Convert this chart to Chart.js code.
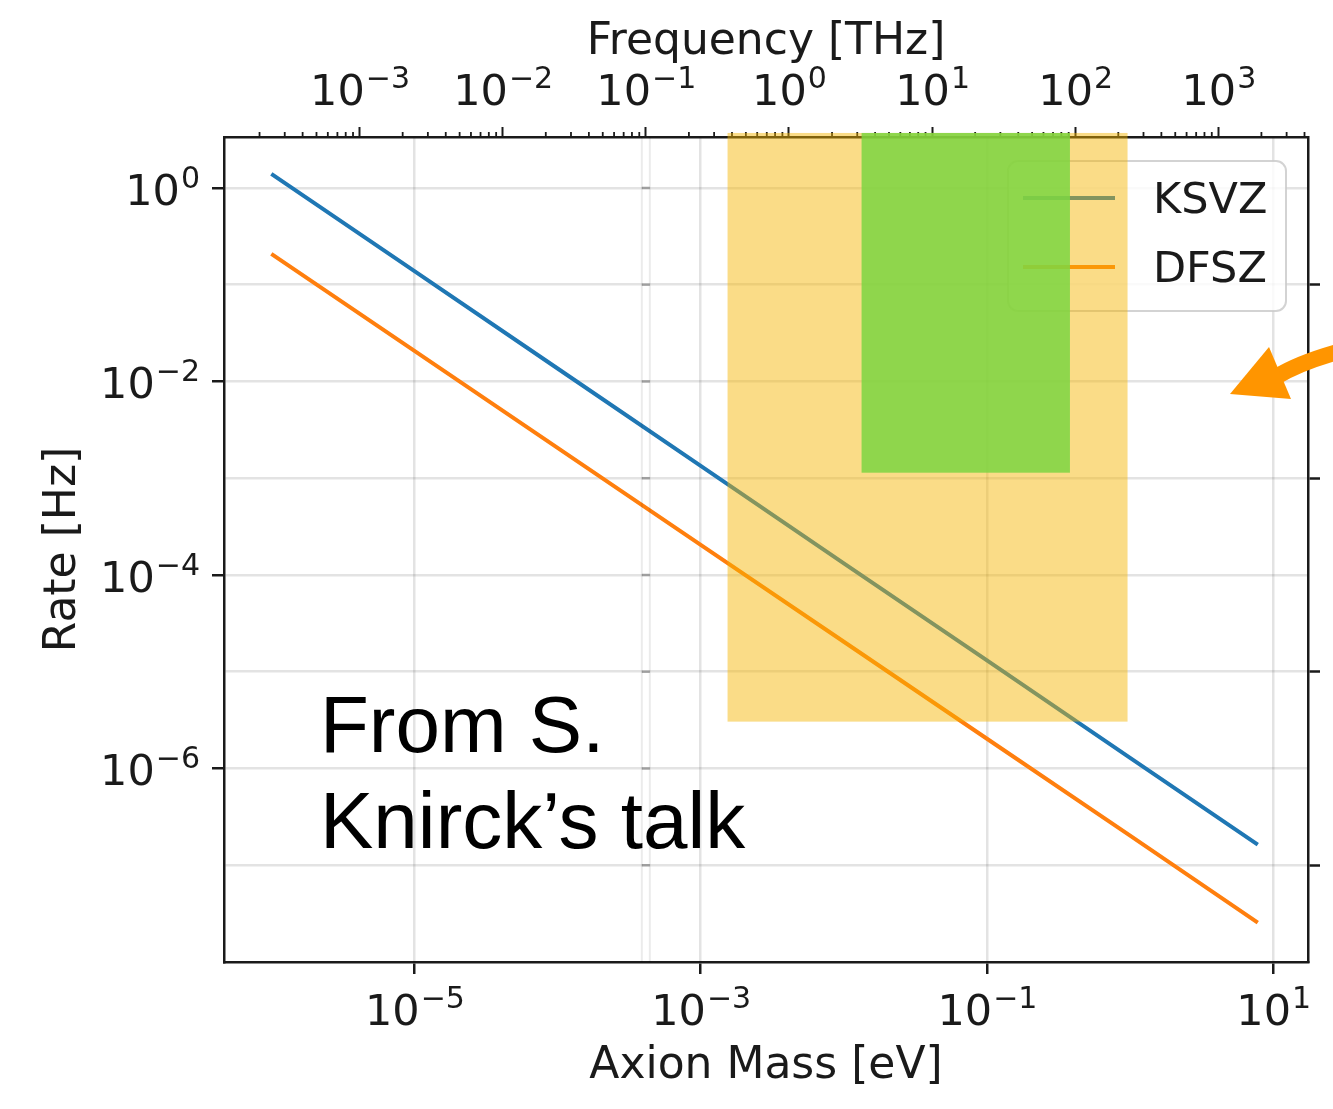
<!DOCTYPE html>
<html lang="en">
    <head>
        <meta charset="utf-8"/>
        <title>Axion rate vs mass</title>
        <script src="https://cdn.jsdelivr.net/npm/chart.js"></script>
        <style type="text/css">
            body { margin: 0; background: #ffffff; }
            canvas { display: block; }
        </style>
    </head>
    <body>
        <canvas id="myChart" width="1333" height="1109"></canvas>

        <script>
            // data
            const massEv   = [1e-6, 1e-5, 1e-4, 1e-3, 1e-2, 1e-1, 1, 7.8];
            const rateKSVZ = [1.4, 0.138, 1.36e-2, 1.34e-3, 1.32e-4, 1.31e-5, 1.29e-6, 1.63e-7];
            const rateDFSZ = [0.208, 2.07e-2, 2.06e-3, 2.05e-4, 2.04e-5, 2.03e-6, 2.02e-7, 2.55e-8];
            const seriesNames = ['KSVZ', 'DFSZ'];

            // axis ranges and ticks
            const massRange = [4.67e-7, 17.5];
            const rateRange = [1e-8, 3.36];
            const THZ_PER_EV = 241.8;
            const massTicks = [1e-5, 1e-3, 1e-1, 1e1];
            const freqTicks = [1e-3, 1e-2, 1e-1, 1e0, 1e1, 1e2, 1e3];
            const rateTicksAll = [1e-7, 1e-6, 1e-5, 1e-4, 1e-3, 1e-2, 1e-1, 1e0];
            const rateTicksLeft = [1e-6, 1e-4, 1e-2, 1e0];
            const rateTicksRight = [1e-7, 1e-5, 1e-3, 1e-1];

            // shaded bands (mass in eV, rate in Hz)
            const bandMassMin = [1.54e-3, 1.33e-2];
            const bandMassMax = [0.96, 0.38];
            const bandRateMin = [3.05e-6, 1.14e-3];
            const bandRateMax = [3.7, 3.7];
            const bandColors  = ['rgba(244,180,0,0.47)', 'rgba(124,214,66,0.85)'];

            const FONT = "'DejaVu Sans'";
            const gridCol = 'rgba(0,0,0,0.11)';
            const titleFont = {family: FONT, size: 44};
            const border = {display: true, color: '#1a1a1a', width: 2.5};

            function setTicks(values) {
                return function (scale) { scale.ticks = values.map(function (v) { return {value: v}; }); };
            }
            function blank() { return ''; }

            // "10" with a raised exponent, like mathtext
            function drawPow(ctx, v, x, base, align) {
                const e = Math.round(Math.log10(v));
                const sup = (e < 0 ? '\u2212' : '') + Math.abs(e);
                ctx.font = '43px ' + FONT;
                const wb = ctx.measureText('10').width;
                ctx.font = '30px ' + FONT;
                const ws = ctx.measureText(sup).width;
                const x0 = align === 'right' ? x - wb - ws : x - (wb + ws) / 2;
                ctx.font = '43px ' + FONT;
                ctx.fillText('10', x0, base);
                ctx.font = '30px ' + FONT;
                ctx.fillText(sup, x0 + wb + 1, base - 17);
            }

            const extras = {
                id: 'extras',
                afterDatasetsDraw(chart) {
                    const ctx = chart.ctx;
                    const a = chart.chartArea;
                    const x = chart.scales.x, y = chart.scales.y, x2 = chart.scales.x2;
                    ctx.save();
                    // stray vertical axis line at 0.1 THz
                    const xs = x2.getPixelForValue(0.1);
                    ctx.strokeStyle = 'rgba(0,0,0,0.08)';
                    ctx.lineWidth = 2;
                    [-4, 4].forEach(function (d) {
                        ctx.beginPath(); ctx.moveTo(xs + d, a.top); ctx.lineTo(xs + d, a.bottom); ctx.stroke();
                    });
                    ctx.strokeStyle = 'rgba(0,0,0,0.3)';
                    ctx.lineWidth = 2.5;
                    rateTicksAll.forEach(function (v) {
                        const py = y.getPixelForValue(v);
                        ctx.beginPath(); ctx.moveTo(xs - 4, py); ctx.lineTo(xs + 4, py); ctx.stroke();
                    });
                    // top minor ticks
                    ctx.strokeStyle = '#1a1a1a';
                    ctx.lineWidth = 1.8;
                    for (let e = -5; e <= 4; e++) {
                        for (let k = 2; k <= 9; k++) {
                            const v = k * Math.pow(10, e);
                            if (v < x2.min || v > x2.max) continue;
                            const px = x2.getPixelForValue(v);
                            ctx.beginPath(); ctx.moveTo(px, a.top); ctx.lineTo(px, a.top - 5); ctx.stroke();
                        }
                    }
                    // tick labels
                    ctx.fillStyle = '#1a1a1a';
                    ctx.textBaseline = 'alphabetic';
                    ctx.textAlign = 'left';
                    massTicks.forEach(function (v) { drawPow(ctx, v, x.getPixelForValue(v), a.bottom + 63, 'center'); });
                    freqTicks.forEach(function (v) { drawPow(ctx, v, x2.getPixelForValue(v), a.top - 32, 'center'); });
                    rateTicksLeft.forEach(function (v) { drawPow(ctx, v, a.left - 25, y.getPixelForValue(v) + 17, 'right'); });
                    // legend box
                    const bx = a.right - 300, by = a.top + 24, bw = 278, bh = 150;
                    ctx.beginPath();
                    ctx.roundRect(bx, by, bw, bh, 10);
                    ctx.fillStyle = 'rgba(255,255,255,0.8)';
                    ctx.fill();
                    ctx.strokeStyle = 'rgba(200,200,200,0.8)';
                    ctx.lineWidth = 2;
                    ctx.stroke();
                    chart.data.datasets.forEach(function (ds, i) {
                        const ly = by + 37 + i * 69;
                        ctx.strokeStyle = ds.borderColor;
                        ctx.lineWidth = 4;
                        ctx.beginPath(); ctx.moveTo(bx + 15, ly); ctx.lineTo(bx + 107, ly); ctx.stroke();
                        ctx.fillStyle = '#1a1a1a';
                        ctx.font = '43px ' + FONT;
                        ctx.fillText(ds.label, bx + 145, ly + 15);
                    });
                    ctx.restore();
                },
                afterDraw(chart) {
                    const ctx = chart.ctx;
                    const x = chart.scales.x, y = chart.scales.y;
                    ctx.save();
                    for (let i = 0; i < bandColors.length; i++) {
                        const x0 = x.getPixelForValue(bandMassMin[i]);
                        const x1 = x.getPixelForValue(bandMassMax[i]);
                        const y0 = y.getPixelForValue(bandRateMax[i]);
                        const y1 = y.getPixelForValue(bandRateMin[i]);
                        ctx.fillStyle = bandColors[i];
                        ctx.fillRect(x0, y0, x1 - x0, y1 - y0);
                    }
                    // note text
                    ctx.fillStyle = '#000';
                    ctx.font = "80px 'Liberation Sans'";
                    ctx.textBaseline = 'alphabetic';
                    ctx.fillText('From S.', 320, 752);
                    ctx.fillText('Knirck\u2019s talk', 320, 848);
                    // orange arrow on the right
                    ctx.fillStyle = 'rgb(255,149,0)';
                    ctx.strokeStyle = 'rgb(255,149,0)';
                    ctx.lineWidth = 16;
                    ctx.beginPath();
                    ctx.moveTo(1276, 377);
                    ctx.quadraticCurveTo(1300, 362, 1345, 350);
                    ctx.stroke();
                    ctx.beginPath();
                    ctx.moveTo(1230, 394);
                    ctx.lineTo(1269, 347);
                    ctx.lineTo(1291, 399);
                    ctx.closePath();
                    ctx.fill();
                    ctx.restore();
                }
            };

            const data = {
                datasets: [{
                    label: seriesNames[0],
                    data: massEv.map(function (m, i) { return {x: m, y: rateKSVZ[i]}; }),
                    borderColor: '#1f77b4',
                    borderWidth: 4,
                    pointRadius: 0,
                    fill: false
                }, {
                    label: seriesNames[1],
                    data: massEv.map(function (m, i) { return {x: m, y: rateDFSZ[i]}; }),
                    borderColor: '#ff7f0e',
                    borderWidth: 4,
                    pointRadius: 0,
                    fill: false
                }]
            };

            const config = {
                type: 'line',
                data: data,
                plugins: [extras],
                options: {
                    responsive: false,
                    animation: false,
                    devicePixelRatio: 1,
                    layout: {padding: 0},
                    plugins: {legend: {display: false}, tooltip: {enabled: false}},
                    scales: {
                        x: {
                            type: 'logarithmic', position: 'bottom',
                            min: massRange[0], max: massRange[1],
                            afterBuildTicks: setTicks(massTicks),
                            afterFit: function (s) { s.height = 147; },
                            grid: {color: gridCol, lineWidth: 2.5, tickLength: 12, tickColor: '#1a1a1a', tickWidth: 2.5},
                            border: border,
                            ticks: {autoSkip: false, maxRotation: 0, callback: blank},
                            title: {display: true, text: 'Axion Mass [eV]', color: '#1a1a1a', font: titleFont,
                                    padding: {top: 0, bottom: 16}}
                        },
                        x2: {
                            type: 'logarithmic', position: 'top',
                            min: massRange[0] * THZ_PER_EV, max: massRange[1] * THZ_PER_EV,
                            afterBuildTicks: setTicks(freqTicks),
                            afterFit: function (s) { s.height = 137; },
                            grid: {drawOnChartArea: false, tickLength: 10, tickColor: '#1a1a1a', tickWidth: 2},
                            border: border,
                            ticks: {autoSkip: false, maxRotation: 0, callback: blank},
                            title: {display: true, text: 'Frequency [THz]', color: '#1a1a1a', font: titleFont,
                                    padding: {top: 16, bottom: 0}}
                        },
                        y: {
                            type: 'logarithmic', position: 'left',
                            min: rateRange[0], max: rateRange[1],
                            afterBuildTicks: setTicks(rateTicksAll),
                            afterFit: function (s) { s.width = 224; },
                            grid: {color: gridCol, lineWidth: 2.5, tickLength: 12, tickWidth: 2.5,
                                   tickColor: function (c) {
                                       return c.tick && rateTicksLeft.indexOf(c.tick.value) >= 0 ? '#1a1a1a' : 'rgba(0,0,0,0)';
                                   }},
                            border: border,
                            ticks: {autoSkip: false, callback: blank},
                            title: {display: true, text: 'Rate [Hz]', color: '#1a1a1a', font: titleFont,
                                    padding: {top: 37, bottom: 0}}
                        },
                        y2: {
                            type: 'logarithmic', position: 'right',
                            min: rateRange[0], max: rateRange[1],
                            afterBuildTicks: setTicks(rateTicksRight),
                            afterFit: function (s) { s.width = 25; },
                            grid: {drawOnChartArea: false, tickLength: 12, tickColor: '#1a1a1a', tickWidth: 2.5},
                            border: border,
                            ticks: {autoSkip: false, callback: blank}
                        }
                    }
                }
            };

            const myChart = new Chart(document.getElementById('myChart'), config);
        </script>
    </body>
</html>
